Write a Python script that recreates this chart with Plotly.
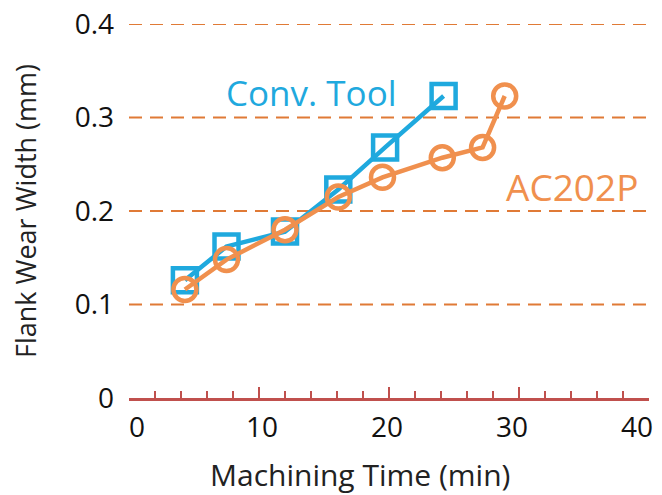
import plotly.graph_objects as go

conv_x = [4.3, 7.5, 12.0, 16.1, 19.7, 24.2]
conv_y = [0.126, 0.162, 0.178, 0.223, 0.268, 0.323]
ac_x = [4.3, 7.5, 12.0, 16.1, 19.5, 24.1, 27.2, 28.9]
ac_y = [0.116, 0.148, 0.180, 0.215, 0.236, 0.257, 0.268, 0.323]
y_ticks = [0, 0.1, 0.2, 0.3, 0.4]
y_tick_text = ["0", "0.1", "0.2", "0.3", "0.4"]
x_ticks = [0, 10, 20, 30, 40]

BLUE = "#1FA9DE"
ORANGE = "#F0904E"
GRID = "#E07A36"
AXIS = "#C0504D"
FONT = "Open Sans"

fig = go.Figure()
fig.add_trace(go.Scatter(x=conv_x, y=conv_y, mode="lines+markers",
                         line=dict(color=BLUE, width=4.5),
                         marker=dict(symbol="square-open", size=24, color=BLUE,
                                     line=dict(width=4.5, color=BLUE)),
                         showlegend=False, cliponaxis=False))
fig.add_trace(go.Scatter(x=ac_x, y=ac_y, mode="lines+markers",
                         line=dict(color=ORANGE, width=4.5),
                         marker=dict(symbol="circle-open", size=23, color=ORANGE,
                                     line=dict(width=4.5, color=ORANGE)),
                         showlegend=False, cliponaxis=False))
# carrier for the tick-label axis (no visible marks)
fig.add_trace(go.Scatter(x=x_ticks, y=[None] * len(x_ticks), xaxis="x2", mode="lines",
                         showlegend=False, hoverinfo="skip"))

for v in y_ticks[1:]:
    fig.add_shape(type="line", xref="paper", yref="y", x0=0, x1=1.03, y0=v, y1=v,
                  line=dict(color=GRID, width=2, dash="13px,8px"), layer="below")

fig.add_annotation(x=14.0, y=0.327, text="Conv. Tool", showarrow=False,
                   font=dict(family=FONT, size=35, color=BLUE))
fig.add_annotation(x=34.1, y=0.226, text="AC202P", showarrow=False,
                   font=dict(family=FONT, size=37, color=ORANGE))
fig.add_annotation(xref="paper", yref="paper", x=0.445, y=-0.205, yanchor="middle",
                   xanchor="center",
                   text="Machining Time (min)", showarrow=False,
                   font=dict(family=FONT, size=30, color="#222222"))
fig.add_annotation(xref="paper", yref="paper", x=-0.2, y=0.5, textangle=-90,
                   xanchor="center", yanchor="middle",
                   text="Flank Wear Width (mm)", showarrow=False,
                   font=dict(family=FONT, size=27, color="#222222"))

fig.update_layout(
    width=662, height=495,
    margin=dict(l=121, r=21, t=16, b=105, autoexpand=False),
    plot_bgcolor="white", paper_bgcolor="white",
    font=dict(family=FONT, size=28, color="#111111"),
    xaxis=dict(range=[0, 40], tickvals=x_ticks, showgrid=False, zeroline=False,
               showline=True, linecolor=AXIS, linewidth=2.5,
               ticks="inside", ticklen=11, tickwidth=2, tickcolor=AXIS,
               showticklabels=False, automargin=False,
               minor=dict(dtick=2, ticks="inside", ticklen=7, tickwidth=2, tickcolor=AXIS)),
    xaxis2=dict(overlaying="x", side="bottom", range=[-0.64, 40.96], tickvals=x_ticks,
                showgrid=False, zeroline=False, showline=False, ticks="",
                ticklabelstandoff=10, ticklabeloverflow="allow", automargin=False),
    yaxis=dict(range=[0, 0.4], tickvals=y_ticks, ticktext=y_tick_text,
               showgrid=False, zeroline=False, showline=False, ticks="",
               ticklabelstandoff=14, ticklabeloverflow="allow", automargin=False),
)

fig.write_html("out.html")
